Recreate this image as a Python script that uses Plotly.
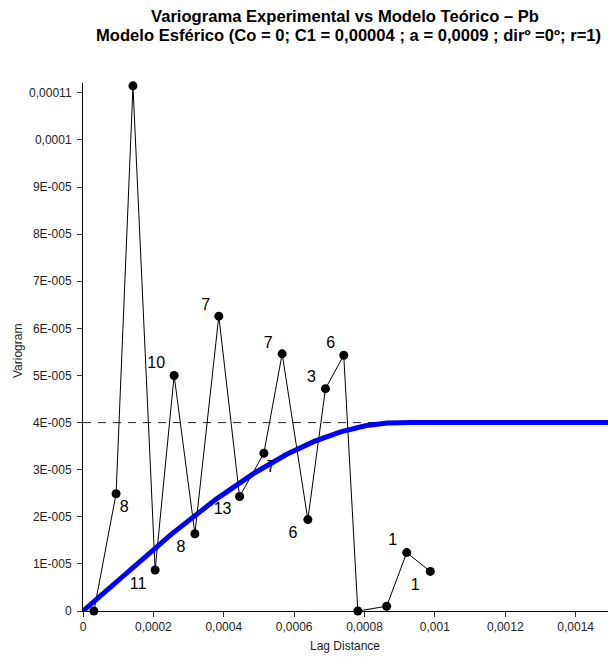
import numpy as np
import plotly.graph_objects as go

# Experimental variogram: lag distance, semivariance, number of pairs
lag = [3.1e-5, 9.4e-5, 1.42e-4, 2.05e-4, 2.59e-4, 3.18e-4, 3.86e-4, 4.45e-4,
       5.14e-4, 5.66e-4, 6.39e-4, 6.89e-4, 7.41e-4, 7.81e-4, 8.63e-4, 9.20e-4,
       9.87e-4]
gamma = [0.0, 2.49e-5, 1.115e-4, 0.87e-5, 5.0e-5, 1.64e-5, 6.26e-5, 2.43e-5,
         3.35e-5, 5.46e-5, 1.94e-5, 4.72e-5, 5.43e-5, 0.0, 0.1e-5, 1.24e-5,
         0.84e-5]
pairs = [1, 8, 3, 11, 10, 8, 7, 13, 7, 7, 6, 3, 6, 1, 1, 1, 1]

# Spherical model parameters
C0 = 0.0
C1 = 0.00004
a = 0.0009

# Axis ticks
x_ticks = [0, 0.0002, 0.0004, 0.0006, 0.0008, 0.001, 0.0012, 0.0014]
x_ticktext = ["0", "0,0002", "0,0004", "0,0006", "0,0008", "0,001", "0,0012", "0,0014"]
y_ticks = [0, 1e-5, 2e-5, 3e-5, 4e-5, 5e-5, 6e-5, 7e-5, 8e-5, 9e-5, 1e-4, 1.1e-4]
y_ticktext = ["0", "1E-005", "2E-005", "3E-005", "4E-005", "5E-005", "6E-005",
              "7E-005", "8E-005", "9E-005", "0,0001", "0,00011"]

title_lines = ["Variograma Experimental vs Modelo Teórico – Pb",
               "Modelo Esférico (Co = 0; C1 = 0,00004 ; a = 0,0009 ; dirº =0º; r=1)"]

# Layout geometry
W, H = 608, 657
ML, MR, MT, MB = 83, 0, 83, 46
X_RANGE = [0, 0.001492]
Y_RANGE = [0, 0.0001121]
plot_w = W - ML - MR
plot_h = H - MT - MB

FONT = "Arial, Liberation Sans, sans-serif"

# Pixel offsets of each pair-count label from its point (right, down)
label_offsets = [(8, 13), (8, 13), (-14, -12), (-17, 13), (-18, -13), (-14, 13),
                 (-13, -12), (-17, 12), (7, 13), (-14, -12), (-15, 13), (-14, -12),
                 (-13, -13), (-13, 12), (8, 13), (-14, -13), (-15, 13)]

kx = (X_RANGE[1] - X_RANGE[0]) / plot_w
ky = (Y_RANGE[1] - Y_RANGE[0]) / plot_h
lab_x = [x + dx * kx for x, (dx, dy) in zip(lag, label_offsets)]
lab_y = [y - (dy + 1.7) * ky for y, (dx, dy) in zip(gamma, label_offsets)]

# Spherical model curve
h = np.linspace(0, X_RANGE[1], 600)
hr = np.minimum(h / a, 1.0)
model = C0 + C1 * (1.5 * hr - 0.5 * hr ** 3)

fig = go.Figure()

# Sill reference
fig.add_trace(go.Scatter(
    x=[X_RANGE[0], X_RANGE[1]], y=[C0 + C1, C0 + C1], mode="lines",
    line=dict(color="#222222", width=1, dash="8px,7px"),
    hoverinfo="skip", showlegend=False))

# Experimental variogram
fig.add_trace(go.Scatter(
    x=lag, y=gamma, mode="lines+markers",
    line=dict(color="black", width=1),
    marker=dict(color="black", size=9),
    cliponaxis=False, showlegend=False))

# Number of pairs per lag
fig.add_trace(go.Scatter(
    x=lab_x, y=lab_y, mode="text", text=[str(p) for p in pairs],
    textposition="middle center",
    textfont=dict(family=FONT, size=16, color="black"),
    cliponaxis=False, hoverinfo="skip", showlegend=False))

# Theoretical spherical model
fig.add_trace(go.Scatter(
    x=h, y=model, mode="lines",
    line=dict(color="#0000FF", width=5),
    cliponaxis=False, showlegend=False))

axis_font = dict(family=FONT, size=12, color="#222222")


def py(pixel_y):
    """Paper y coordinate for a pixel row of the figure."""
    return (MT + plot_h - pixel_y) / plot_h


def px(pixel_x):
    """Paper x coordinate for a pixel column of the figure."""
    return (pixel_x - ML) / plot_w


fig.update_layout(
    width=W, height=H,
    margin=dict(l=ML, r=MR, t=MT, b=MB, pad=0),
    paper_bgcolor="white", plot_bgcolor="white",
    font=dict(family=FONT, color="black"),
    xaxis=dict(range=X_RANGE, tickvals=x_ticks, ticktext=x_ticktext,
               showgrid=False, zeroline=False, showline=True, linecolor="black",
               linewidth=1, ticks="outside", ticklen=5, tickcolor="#333333",
               tickfont=axis_font),
    yaxis=dict(range=Y_RANGE, tickvals=y_ticks, ticktext=y_ticktext,
               showgrid=False, zeroline=False, showline=True, linecolor="black",
               linewidth=1, ticks="outside", ticklen=5, tickcolor="#333333",
               tickfont=axis_font, ticklabelstandoff=3),
    annotations=[
        dict(text="<b>" + title_lines[0] + "</b>", xref="paper", yref="paper",
             x=px(345), y=py(16.5), xanchor="center", yanchor="middle", showarrow=False,
             font=dict(family=FONT, size=16.6, color="black")),
        dict(text="<b>" + title_lines[1] + "</b>", xref="paper", yref="paper",
             x=px(348), y=py(35), xanchor="center", yanchor="middle", showarrow=False,
             font=dict(family=FONT, size=16.6, color="black")),
        dict(text="Lag Distance", xref="paper", yref="paper",
             x=px(345), y=py(646), xanchor="center", yanchor="middle", showarrow=False,
             font=dict(family=FONT, size=12, color="#222222")),
        dict(text="Variogram", xref="paper", yref="paper",
             x=px(18), y=py(351), xanchor="center", yanchor="middle",
             textangle=-90, showarrow=False,
             font=dict(family=FONT, size=12, color="#222222")),
    ],
)

fig.write_html("out.html")
